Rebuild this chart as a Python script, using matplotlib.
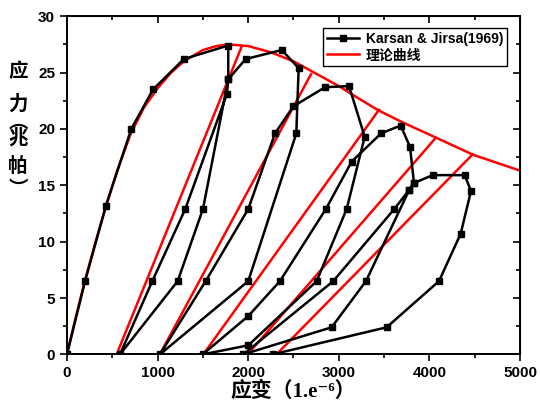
import matplotlib
matplotlib.use("Agg")
import matplotlib.pyplot as plt
from matplotlib.ticker import MultipleLocator

# ===============================
# Data
# ===============================
# Karsan & Jirsa (1969) cyclic test, in drawing order
exp_strain = [0, 200, 430, 710, 950, 1290, 1780, 1780, 1765, 1306, 942, 585,
              1222, 1501, 1780, 1972, 2370, 2557, 2531, 2001, 1026,
              1531, 2001, 2296, 2498, 2848, 3113, 3286, 3087, 2756, 2001, 1498,
              2001, 2351, 2858, 3142, 3466, 3683, 3786, 3830, 3778, 3300, 2921, 1946,
              2939, 3613, 3778, 3830, 4036, 4389, 4459, 4345, 4106, 3528, 2270]
exp_stress = [0, 6.5, 13.2, 20.0, 23.5, 26.2, 27.4, 24.4, 23.1, 12.9, 6.5, 0,
              6.5, 12.9, 24.4, 26.2, 27.0, 25.4, 19.6, 6.5, 0,
              6.5, 12.9, 19.6, 22.0, 23.7, 23.8, 19.3, 12.9, 6.5, 0.8, 0,
              3.4, 6.5, 12.9, 17.1, 19.6, 20.3, 18.4, 15.2, 14.6, 6.5, 2.4, 0,
              6.5, 12.9, 14.6, 15.2, 15.9, 15.9, 14.5, 10.7, 6.5, 2.4, 0]

# theoretical envelope
env_strain = [0, 100, 200, 320, 430, 550, 700, 850, 1000, 1150, 1290, 1500, 1650, 1780,
              2000, 2250, 2500, 2682, 3000, 3200, 3436, 3700, 4080, 4485, 5000]
env_stress = [0, 3.4, 6.6, 10.1, 13.1, 16.2, 19.5, 21.9, 23.6, 25.0, 26.0, 27.0, 27.35, 27.5,
              27.35, 26.8, 26.0, 25.2, 23.8, 22.8, 21.65, 20.6, 19.2, 17.7, 16.3]

# theoretical unloading / reloading lines: (start on zero stress) -> (end on envelope)
unl_start = [548, 1025, 1505, 1994, 2312]
unl_end_strain = [1928, 2693, 3444, 4069, 4478]
unl_end_stress = [27.3, 24.85, 21.7, 19.2, 17.75]

# ===============================
# Plot
# ===============================
fig = plt.figure(figsize=(5.4, 4.05), dpi=100)
ax = fig.add_axes([0.124, 0.125, 0.839, 0.835])

exp_line, = ax.plot(exp_strain, exp_stress, color="black", lw=1.8,
                    marker="s", ms=5, mfc="black", mec="black", zorder=3)
theo_line, = ax.plot(env_strain, env_stress, color="red", lw=1.8, zorder=2)
for x0, x1, y1 in zip(unl_start, unl_end_strain, unl_end_stress):
    ax.plot([x0, x1], [0, y1], color="red", lw=1.8, zorder=2)

ax.set_xlim(0, 5000)
ax.set_ylim(0, 30)
ax.xaxis.set_major_locator(MultipleLocator(1000))
ax.xaxis.set_minor_locator(MultipleLocator(500))
ax.yaxis.set_major_locator(MultipleLocator(5))
ax.yaxis.set_minor_locator(MultipleLocator(2.5))
ax.tick_params(which="both", direction="out", top=False, right=False, width=1.2)
ax.tick_params(which="major", length=5)
ax.tick_params(which="minor", length=3)
for sp in ax.spines.values():
    sp.set_linewidth(1.4)

# inward ticks on top and right
sec_x = ax.secondary_xaxis("top")
sec_x.xaxis.set_major_locator(MultipleLocator(1000))
sec_x.xaxis.set_minor_locator(MultipleLocator(500))
sec_x.tick_params(which="both", direction="in", labeltop=False, width=1.2)
sec_x.tick_params(which="major", length=5)
sec_x.tick_params(which="minor", length=3)
sec_y = ax.secondary_yaxis("right")
sec_y.yaxis.set_major_locator(MultipleLocator(5))
sec_y.yaxis.set_minor_locator(MultipleLocator(2.5))
sec_y.tick_params(which="both", direction="in", labelright=False, width=1.2)
sec_y.tick_params(which="major", length=5)
sec_y.tick_params(which="minor", length=3)

for lab in ax.get_xticklabels() + ax.get_yticklabels():
    lab.set_fontfamily("Liberation Sans")
    lab.set_fontweight("bold")
    lab.set_fontsize(11)

# axis titles
ax.set_xlabel("应变（1.e⁻⁶）", family=["Liberation Serif", "DejaVu Serif", "Noto Sans CJK SC"],
              fontsize=15, fontweight="bold", labelpad=1)
ylab_chars = ["应", "力", "︵", "兆", "帕", "︶"]
ylab_pos = [72, 104, 122, 138, 166, 189]
for ch, py in zip(ylab_chars, ylab_pos):
    fig.text(18 / 540, 1 - py / 405, ch, family=["Noto Sans CJK SC"], fontsize=14,
             fontweight="bold", ha="center", va="center")

leg = ax.legend([exp_line, theo_line], ["Karsan & Jirsa(1969)", "理论曲线"],
                loc="upper right", bbox_to_anchor=(0.972, 0.965), borderaxespad=0,
                prop={"family": ["Liberation Sans", "Noto Sans CJK SC"], "weight": "bold", "size": 10},
                frameon=True, fancybox=False, edgecolor="black", framealpha=1,
                handlelength=2.3, handletextpad=0.5, labelspacing=0.15, borderpad=0.3)
leg.get_frame().set_linewidth(1.0)

fig.savefig("out.png", dpi=100)
